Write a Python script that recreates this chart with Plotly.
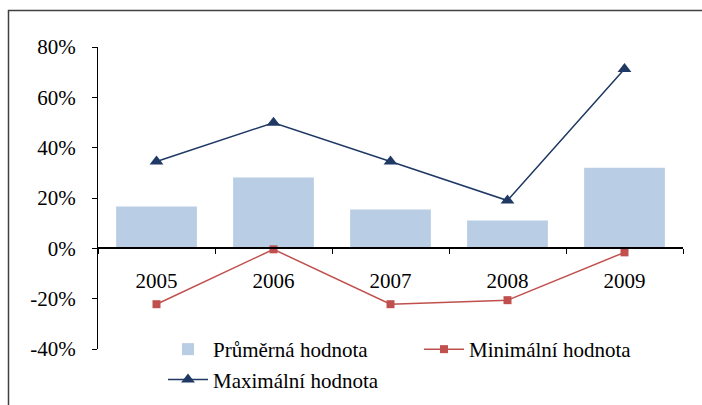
import plotly.graph_objects as go

years = ["2005", "2006", "2007", "2008", "2009"]
avg_vals = [0.166, 0.281, 0.154, 0.111, 0.32]
min_vals = [-0.222, -0.004, -0.222, -0.206, -0.016]
max_vals = [0.345, 0.499, 0.345, 0.19, 0.713]
y_ticks = [-0.4, -0.2, 0, 0.2, 0.4, 0.6, 0.8]
y_tick_labels = ["-40%", "-20%", "0%", "20%", "40%", "60%", "80%"]

FONT = "Liberation Serif"

fig = go.Figure()
fig.add_trace(go.Bar(x=years, y=avg_vals, name="Průměrná hodnota",
                     marker=dict(color="#B9CDE5", line=dict(width=0)), width=0.69))
fig.add_trace(go.Scatter(x=years, y=min_vals, name="Minimální hodnota", mode="lines+markers",
                         line=dict(color="#C0504D", width=1.5),
                         marker=dict(symbol="square", size=8, color="#C0504D")))
fig.add_trace(go.Scatter(x=years, y=max_vals, name="Maximální hodnota", mode="lines+markers",
                         line=dict(color="#1F3864", width=1.5),
                         marker=dict(symbol="triangle-up", size=12, color="#1F3864")))

W, H = 702, 405
L, T = 98, 47
R = W - 683
B = H - 349
pw, ph = W - L - R, H - T - B

fig.update_layout(
    width=W, height=H,
    margin=dict(l=L, r=R, t=T, b=B, pad=0, autoexpand=False),
    paper_bgcolor="white", plot_bgcolor="white",
    font=dict(family=FONT, size=21, color="black"),
    showlegend=True,
    legend=dict(orientation="h", x=(163 - L) / pw, y=(H - B - 329) / ph,
                xanchor="left", yanchor="top",
                entrywidth=201, entrywidthmode="pixels",
                font=dict(family=FONT, size=21), traceorder="normal",
                bgcolor="rgba(0,0,0,0)", itemwidth=40, tracegroupgap=0),
    xaxis=dict(type="category", anchor="free", position=1/3,
               showline=True, linecolor="black", linewidth=2,
               ticks="outside", tickson="boundaries", ticklen=5, tickcolor="black",
               ticklabelstandoff=13, showgrid=False, zeroline=False,
               range=[-0.5, 4.5]),
    yaxis=dict(range=[-0.4, 0.8], tickvals=y_ticks, ticktext=y_tick_labels,
               showline=True, linecolor="black", linewidth=1.3,
               ticks="outside", ticklen=5, tickcolor="black",
               ticklabelstandoff=12, showgrid=False, zeroline=False),
    bargap=0.31,
    shapes=[dict(type="rect", xref="paper", yref="paper",
                 x0=(8.5 - L) / pw, x1=1.3, y0=-0.5, y1=1 + (T - 10.5) / ph,
                 line=dict(color="#404040", width=1.5), fillcolor="rgba(0,0,0,0)", layer="below")],
)

fig.write_html("out.html", config={"displayModeBar": False},
               post_script="document.body.style.margin='0';document.body.style.overflow='hidden';")
